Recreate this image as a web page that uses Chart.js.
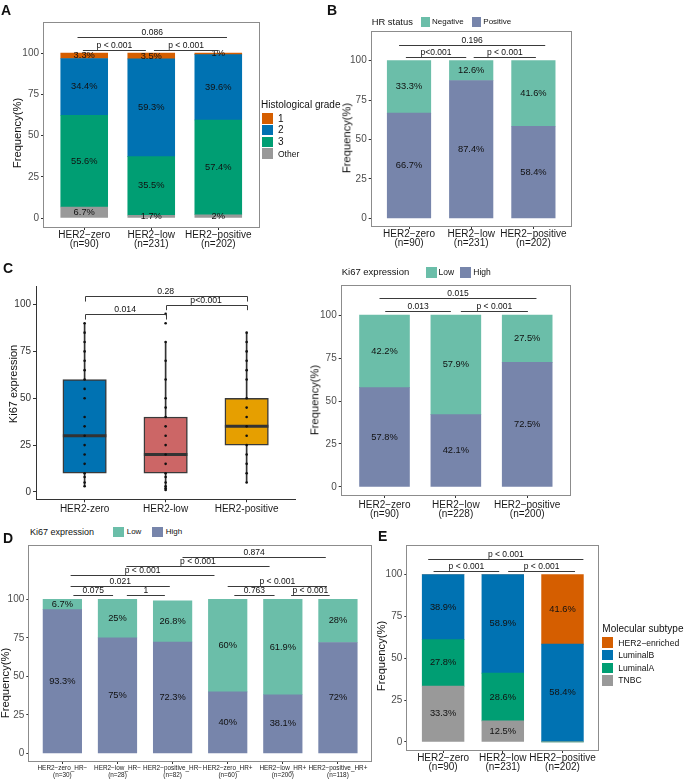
<!DOCTYPE html>
<html>
<head>
<meta charset="utf-8">
<script src="https://cdn.jsdelivr.net/npm/chart.js@4.4.1/dist/chart.umd.min.js"></script>
<style>
  html, body { margin: 0; padding: 0; background: #fff; }
  body { position: relative; width: 685px; height: 779px; overflow: hidden;
         font-family: "Liberation Sans", Arial, Helvetica, sans-serif; color: #111; }
  canvas, .txt, .sw { position: absolute; }
  .txt { white-space: nowrap; line-height: 1; }
</style>
</head>
<body>
<script>
const FONT = '"Liberation Sans", Arial, Helvetica, sans-serif';

/* ---------- data ---------- */
const herGroups = ["HER2−zero", "HER2−low", "HER2−positive"];
const nAB = ["(n=90)", "(n=231)", "(n=202)"];
const nKi67 = ["(n=90)", "(n=228)", "(n=200)"];
const yTicks = [0, 25, 50, 75, 100];

// A: histological grade (%)
const gradeOther = [6.7, 1.7, 2];
const grade3 = [55.6, 35.5, 57.4];
const grade2 = [34.4, 59.3, 39.6];
const grade1 = [3.3, 3.5, 1];

// B: HR status (%)
const hrPositive = [66.7, 87.4, 58.4];
const hrNegative = [33.3, 12.6, 41.6];

// C left: Ki67 boxplot
const boxGroups = ["HER2-zero", "HER2-low", "HER2-positive"];
const ki67Min = [3, 1, 5];
const ki67Q1 = [10, 10, 25];
const ki67Median = [30, 20, 35];
const ki67Q3 = [60, 40, 50];
const ki67Max = [90, 80, 85];
const ki67ZeroPts = [3, 5, 8, 10, 15, 20, 25, 30, 35, 40, 50, 55, 60, 65, 70, 75, 80, 85, 90];
const ki67LowPts = [1, 2, 3, 5, 8, 10, 15, 20, 25, 30, 35, 40, 45, 50, 60, 70, 80, 90, 95];
const ki67PosPts = [5, 10, 15, 20, 25, 30, 35, 40, 45, 50, 60, 65, 70, 75, 80, 85];

// C right: Ki67 high / low (%)
const ki67HighPct = [57.8, 42.1, 72.5];
const ki67LowPct = [42.2, 57.9, 27.5];

// D: Ki67 by HER2 and HR (%)
const subGroups = ["HER2−zero_HR−", "HER2−low_HR−", "HER2−positive_HR−",
                   "HER2−zero_HR+", "HER2−low_HR+", "HER2−positive_HR+"];
const nD = ["(n=30)", "(n=28)", "(n=82)", "(n=60)", "(n=200)", "(n=118)"];
const dHigh = [93.3, 75, 72.3, 40, 38.1, 72];
const dLow = [6.7, 25, 26.8, 60, 61.9, 28];

// E: molecular subtype (%)
const tnbc = [33.3, 12.5, 0];
const luminalA = [27.8, 28.6, 0];
const luminalB = [38.9, 58.9, 58.4];
const her2Enriched = [0, 0, 41.6];

/* ---------- p-value brackets (x in category units, y in %) ---------- */
const bracketsA = [
  { from: 0.98, to: 1.92, y: 102, text: "p < 0.001" },
  { from: 2.04, to: 3.0, y: 102, text: "p < 0.001" },
  { from: 0.9, to: 3.13, y: 110, text: "0.086" },
];
const bracketsB = [
  { from: 0.95, to: 1.92, y: 102, text: "p<0.001" },
  { from: 2.04, to: 3.04, y: 102, text: "p < 0.001" },
  { from: 0.84, to: 3.19, y: 109.8, text: "0.196" },
];
const bracketsC = [
  { from: 1, to: 2, y: 94.8, tip: 2.8, text: "0.014" },
  { from: 2, to: 3, y: 99.5, tip: 2.5, text: "p<0.001" },
  { from: 1, to: 3, y: 104.3, tip: 2.7, text: "0.28" },
];
const bracketsC2 = [
  { from: 1.01, to: 1.93, y: 102.5, text: "0.013" },
  { from: 2.07, to: 3.01, y: 102.5, text: "p < 0.001" },
  { from: 0.93, to: 3.13, y: 110, text: "0.015" },
];
const bracketsD = [
  { from: 1.2, to: 1.92, y: 102.6, text: "0.075" },
  { from: 2.17, to: 2.86, y: 102.6, text: "1" },
  { from: 1.15, to: 2.95, y: 108.5, text: "0.021" },
  { from: 1.15, to: 3.76, y: 116, text: "p < 0.001" },
  { from: 2.16, to: 4.76, y: 121.7, text: "p < 0.001" },
  { from: 3.18, to: 5.78, y: 127.3, text: "0.874" },
  { from: 4.0, to: 5.8, y: 108.5, text: "p < 0.001" },
  { from: 4.12, to: 4.85, y: 102.6, text: "0.763" },
  { from: 5.15, to: 5.85, y: 102.6, text: "p < 0.001" },
];
const bracketsE = [
  { from: 0.84, to: 1.94, y: 102, text: "p < 0.001" },
  { from: 2.09, to: 3.21, y: 102, text: "p < 0.001" },
  { from: 0.75, to: 3.35, y: 109, text: "p < 0.001" },
];

/* ---------- colours ---------- */
const cOrange = "#D55E00", cBlue = "#0072B2", cGreen = "#009E73", cGray = "#999999";
const cTeal = "#6BBEA9", cSlate = "#7785AB";
const boxColors = ["#0072B2", "#CC6666", "#E69F00"];

/* ---------- plugins ---------- */
const percentLabels = {
  id: "percentLabels",
  afterDatasetsDraw(chart, args, opts) {
    const ctx = chart.ctx;
    ctx.save();
    ctx.font = `${opts.size || 9.3}px ${FONT}`;
    ctx.fillStyle = "#111";
    ctx.textAlign = "center";
    ctx.textBaseline = "middle";
    chart.data.datasets.forEach((ds, i) => {
      chart.getDatasetMeta(i).data.forEach((bar, j) => {
        const v = ds.data[j].y;
        if (!v) return;
        ctx.fillText(v + "%", bar.x, (bar.y + bar.base) / 2);
      });
    });
    ctx.restore();
  },
};

const brackets = {
  id: "brackets",
  afterDatasetsDraw(chart, args, opts) {
    const items = opts.items || [];
    const ctx = chart.ctx;
    const xs = chart.scales.x, ys = chart.scales.y;
    ctx.save();
    ctx.strokeStyle = "#3a3a3a";
    ctx.lineWidth = 1;
    ctx.fillStyle = "#111";
    ctx.font = `${opts.size || 8.5}px ${FONT}`;
    ctx.textAlign = "center";
    ctx.textBaseline = "bottom";
    items.forEach((b) => {
      const x1 = xs.getPixelForValue(b.from);
      const x2 = xs.getPixelForValue(b.to);
      const yy = Math.round(ys.getPixelForValue(b.y)) + 0.5;
      ctx.beginPath();
      if (b.tip) {
        const yt = ys.getPixelForValue(b.y - b.tip);
        ctx.moveTo(Math.round(x1) + 0.5, yt);
        ctx.lineTo(Math.round(x1) + 0.5, yy);
        ctx.lineTo(Math.round(x2) + 0.5, yy);
        ctx.lineTo(Math.round(x2) + 0.5, yt);
      } else {
        ctx.moveTo(x1, yy);
        ctx.lineTo(x2, yy);
      }
      ctx.stroke();
      ctx.fillText(b.text, (x1 + x2) / 2, yy - 1);
    });
    ctx.restore();
  },
};

const frame = {
  id: "frame",
  afterDraw(chart, args, opts) {
    if (!opts.show) return;
    const { left, top, right, bottom } = chart.chartArea;
    const ctx = chart.ctx;
    ctx.save();
    ctx.strokeStyle = "#8c8c8c";
    ctx.lineWidth = 1;
    ctx.strokeRect(Math.round(left) - 0.5, Math.round(top) - 0.5,
                   Math.round(right - left) + 1, Math.round(bottom - top) + 1);
    ctx.restore();
  },
};

/* ---------- helpers ---------- */
function makeCanvas(box) {
  const c = document.createElement("canvas");
  c.width = box.w;
  c.height = box.h;
  c.style.left = box.x + "px";
  c.style.top = box.y + "px";
  document.body.appendChild(c);
  return c;
}

function addText(text, x, y, size, opts = {}) {
  const d = document.createElement("div");
  d.className = "txt";
  d.textContent = text;
  d.style.left = x + "px";
  d.style.top = y + "px";
  d.style.fontSize = size + "px";
  d.style.transform = opts.rotate ? "translate(-50%,-50%) rotate(-90deg)" : "translateY(-50%)";
  if (opts.bold) d.style.fontWeight = "bold";
  if (opts.color) d.style.color = opts.color;
  document.body.appendChild(d);
}

function swatch(x, y, w, h, color) {
  const d = document.createElement("div");
  d.className = "sw";
  Object.assign(d.style, { left: x + "px", top: y + "px", width: w + "px", height: h + "px", background: color });
  document.body.appendChild(d);
}

function axisScales(p, n) {
  return {
    x: {
      type: "linear",
      stacked: true,
      offset: false,
      min: 0.4,
      max: n + 0.6,
      afterBuildTicks: (a) => { a.ticks = p.labels.map((_, i) => ({ value: i + 1 })); },
      afterFit: (s) => { s.height = p.box.y + p.box.h - p.area.b; },
      ticks: {
        autoSkip: false,
        maxRotation: 0,
        padding: p.xPad,
        color: "#1a1a1a",
        font: { family: FONT, size: p.xFont, lineHeight: p.xLine },
        callback: (v, i) => p.labels[i],
      },
      grid: { display: true, offset: false, drawOnChartArea: false, tickLength: 3, color: "#333" },
      border: { display: !!p.axisLines, color: "#333" },
    },
    y: {
      stacked: true,
      min: p.yMin,
      max: p.yMax,
      afterBuildTicks: (a) => { a.ticks = yTicks.map((v) => ({ value: v })); },
      afterFit: (s) => { s.width = p.area.l - p.box.x; },
      ticks: { padding: 2, color: p.yColor || "#4d4d4d", font: { family: FONT, size: 10 } },
      grid: { display: true, drawOnChartArea: false, tickLength: 3, color: "#333" },
      border: { display: !!p.axisLines, color: "#333" },
    },
  };
}

function layoutPadding(p) {
  return { left: 0, bottom: 0, top: p.area.t - p.box.y, right: p.box.x + p.box.w - p.area.r };
}

function stackedPanel(p) {
  const canvas = makeCanvas(p.box);
  const n = p.labels.length;
  const unit = (p.area.r - p.area.l) / (n + 0.2);
  new Chart(canvas, {
    type: "bar",
    data: {
      datasets: p.series.map((s) => ({
        label: s.name,
        data: s.values.map((v, i) => ({ x: i + 1, y: v })),
        backgroundColor: s.color,
        borderWidth: 0,
        barThickness: unit * 0.7,
      })),
    },
    options: {
      responsive: false,
      animation: false,
      layout: { padding: layoutPadding(p) },
      plugins: {
        legend: { display: false },
        tooltip: { enabled: false },
        percentLabels: { size: p.pctFont },
        brackets: { items: p.brackets, size: p.pFont },
        frame: { show: true },
      },
      scales: axisScales(p, n),
    },
    plugins: [percentLabels, brackets, frame],
  });
}

/* ---------- A ---------- */
stackedPanel({
  box: { x: 0, y: 0, w: 262, h: 256 },
  area: { l: 44, t: 22.7, r: 258.5, b: 227 },
  yMin: -5.45, yMax: 118.4,
  labels: herGroups.map((g, i) => [g, nAB[i]]),
  xFont: 10, xLine: 0.9, xPad: 1,
  series: [
    { name: "Other", values: gradeOther, color: cGray },
    { name: "3", values: grade3, color: cGreen },
    { name: "2", values: grade2, color: cBlue },
    { name: "1", values: grade1, color: cOrange },
  ],
  brackets: bracketsA,
});
addText("A", 1, 10, 14, { bold: true });
addText("Frequency(%)", 17.7, 133, 11.2, { rotate: true });
addText("Histological grade", 261, 105, 10);
[["1", cOrange], ["2", cBlue], ["3", cGreen], ["Other", cGray]].forEach(([name, col], i) => {
  swatch(261.7, 113.3 + i * 11.7, 11, 10.3, col);
  addText(name, 278, 118.6 + i * 11.7, name === "Other" ? 8.5 : 10);
});

/* ---------- B ---------- */
stackedPanel({
  box: { x: 340, y: 24, w: 235, h: 230 },
  area: { l: 371.7, t: 29.3, r: 570.7, b: 226 },
  yMin: -4.8, yMax: 118.1,
  labels: herGroups.map((g, i) => [g, nAB[i]]),
  xFont: 10, xLine: 0.9, xPad: 1,
  series: [
    { name: "Positive", values: hrPositive, color: cSlate },
    { name: "Negative", values: hrNegative, color: cTeal },
  ],
  brackets: bracketsB,
});
addText("B", 327, 10, 14, { bold: true });
addText("Frequency(%)", 346.7, 138, 11.2, { rotate: true });
addText("HR status", 371.7, 21.7, 9.4);
swatch(420.7, 17.3, 9.5, 9.5, cTeal);
addText("Negative", 432, 21.7, 8);
swatch(471.7, 17.3, 9.5, 9.5, cSlate);
addText("Positive", 483.3, 21.7, 8);

/* ---------- C (boxplot) ---------- */
(function () {
  const p = {
    box: { x: 0, y: 262, w: 320, h: 262 },
    area: { l: 36, t: 266.7, r: 314.4, b: 506 },
    yMin: -3.9, yMax: 109.5,
    labels: boxGroups,
    xFont: 10, xLine: 1, xPad: 2,
    axisLines: true, yColor: "#333",
  };
  const unit = (p.area.r - p.area.l) / 3.2;
  const pts = [ki67ZeroPts, ki67LowPts, ki67PosPts]
    .flatMap((arr, i) => arr.map((v) => ({ x: i + 1, y: v })));
  const scales = axisScales(p, 3);
  scales.x.stacked = false;
  scales.y.stacked = false;
  new Chart(makeCanvas(p.box), {
    type: "bar",
    data: {
      datasets: [
        {
          type: "line", showLine: false, order: 0,
          data: pts, pointRadius: 1.3, pointBackgroundColor: "#111", pointBorderWidth: 0,
        },
        {
          type: "line", showLine: false, order: 1,
          data: ki67Median.map((v, i) => ({ x: i + 1, y: v })),
          pointStyle: "line", pointRadius: unit * 0.25, pointBorderColor: "#333", pointBorderWidth: 3,
        },
        {
          type: "bar", order: 2, grouped: false,
          data: ki67Q1.map((v, i) => ({ x: i + 1, y: [v, ki67Q3[i]] })),
          backgroundColor: boxColors, borderColor: "#3a3a3a", borderWidth: 1.5, borderSkipped: false,
          barThickness: unit * 0.5,
        },
        {
          type: "bar", order: 3, grouped: false,
          data: ki67Min.map((v, i) => ({ x: i + 1, y: [v, ki67Max[i]] })),
          backgroundColor: "#333", borderWidth: 0, barThickness: 1,
        },
      ],
    },
    options: {
      responsive: false,
      animation: false,
      layout: { padding: layoutPadding(p) },
      plugins: {
        legend: { display: false },
        tooltip: { enabled: false },
        brackets: { items: bracketsC, size: 8.7 },
      },
      scales: scales,
    },
    plugins: [brackets],
  });
})();
addText("C", 3, 267.5, 14, { bold: true });
addText("Ki67 expression", 13.3, 384, 11, { rotate: true });

/* ---------- C (stacked) ---------- */
stackedPanel({
  box: { x: 312, y: 278, w: 263, h: 245 },
  area: { l: 341.7, t: 282.7, r: 570, b: 495 },
  yMin: -4.76, yMax: 117,
  labels: herGroups.map((g, i) => [g, nKi67[i]]),
  xFont: 10, xLine: 0.95, xPad: 2,
  series: [
    { name: "High", values: ki67HighPct, color: cSlate },
    { name: "Low", values: ki67LowPct, color: cTeal },
  ],
  brackets: bracketsC2,
});
addText("Frequency(%)", 315, 400, 11.2, { rotate: true });
addText("Ki67 expression", 341.7, 272.3, 9.5);
swatch(426, 267.3, 11, 11, cTeal);
addText("Low", 438.5, 272.3, 8.5);
swatch(460, 267.3, 11, 11, cSlate);
addText("High", 473.3, 272.3, 8.5);

/* ---------- D ---------- */
stackedPanel({
  box: { x: 0, y: 538, w: 378, h: 241 },
  area: { l: 29.3, t: 542.5, r: 371, b: 761 },
  yMin: -4.9, yMax: 134.6,
  labels: subGroups.map((g, i) => [g, nD[i]]),
  xFont: 6.4, xLine: 1.1, xPad: 0.5,
  pctFont: 9.3, pFont: 8.5,
  series: [
    { name: "High", values: dHigh, color: cSlate },
    { name: "Low", values: dLow, color: cTeal },
  ],
  brackets: bracketsD,
});
addText("D", 3, 538, 14, { bold: true });
addText("Frequency(%)", 6, 683, 11.2, { rotate: true });
addText("Ki67 expression", 30, 531.7, 9);
swatch(112.7, 527, 11, 9.7, cTeal);
addText("Low", 126.7, 531.7, 8);
swatch(151.7, 527, 11, 9.7, cSlate);
addText("High", 165.7, 531.7, 8);

/* ---------- E ---------- */
stackedPanel({
  box: { x: 380, y: 538, w: 223, h: 241 },
  area: { l: 407.3, t: 541.7, r: 598.3, b: 750 },
  yMin: -4.85, yMax: 117,
  labels: herGroups.map((g, i) => [g, nAB[i]]),
  xFont: 10, xLine: 0.9, xPad: 1,
  series: [
    { name: "TNBC", values: tnbc, color: cGray },
    { name: "LuminalA", values: luminalA, color: cGreen },
    { name: "LuminalB", values: luminalB, color: cBlue },
    { name: "HER2−enriched", values: her2Enriched, color: cOrange },
  ],
  brackets: bracketsE,
});
addText("E", 378, 535.5, 14, { bold: true });
addText("Frequency(%)", 381.7, 656, 11.2, { rotate: true });
addText("Molecular subtype", 602.3, 629.3, 10);
[["HER2−enriched", cOrange], ["LuminalB", cBlue], ["LuminalA", cGreen], ["TNBC", cGray]].forEach(([name, col], i) => {
  swatch(602.3, 637.3 + i * 12.6, 11, 10.5, col);
  addText(name, 618.3, 642.5 + i * 12.6, 8.6);
});
</script>
</body>
</html>
